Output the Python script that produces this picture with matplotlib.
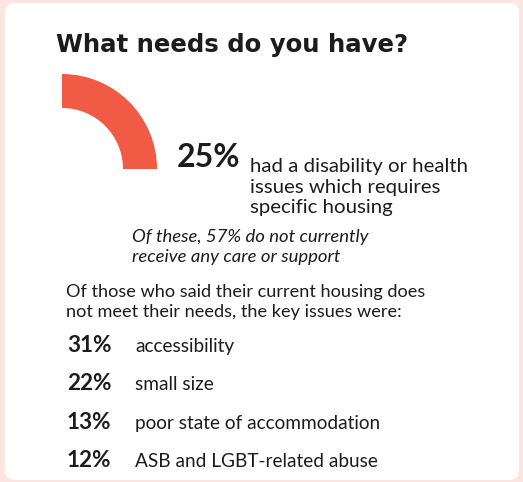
import matplotlib.pyplot as plt
from matplotlib.patches import Wedge, FancyBboxPatch

plt.rcParams['font.family'] = ['Lato', 'DejaVu Sans']

title = 'What needs do you have?'
headline_value = 25
headline_text = ['had a disability or health', 'issues which requires', 'specific housing']
sub_note = ['Of these, 57% do not currently', 'receive any care or support']
intro = ['Of those who said their current housing does', 'not meet their needs, the key issues were:']
issue_values = [31, 22, 13, 12]
issue_labels = ['accessibility', 'small size', 'poor state of accommodation',
                'ASB and LGBT-related abuse']

W, H = 523, 482
PT = 72 / 100  # px -> pt at dpi 100

fig = plt.figure(figsize=(W / 100, H / 100), dpi=100)
fig.patch.set_facecolor('#fde5e2')
ax = fig.add_axes([0, 0, 1, 1])
ax.set_xlim(0, W)
ax.set_ylim(H, 0)
ax.axis('off')

# white card
card = FancyBboxPatch((5, 3), 514, 477, boxstyle='round,pad=0,rounding_size=10',
                      fc='white', ec='none')
ax.add_patch(card)

ink = '#1c1c1c'
ax.text(56, 52, title, fontsize=24.4 * PT, fontweight='bold', color=ink, va='baseline',
        family='DejaVu Sans')

# quarter ring for the headline share
span = 360 * headline_value / 100
ax.add_patch(Wedge((62, 169), 95, -90, -90 + span, width=34, fc='#f15a45', ec='none'))

ax.text(177, 167, f'{headline_value}%', fontsize=32 * PT, fontweight='bold',
        color=ink, va='baseline')
for i, line in enumerate(headline_text):
    ax.text(250, 172 + i * 20.5, line, fontsize=20.4 * PT, color=ink, va='baseline')

for i, line in enumerate(sub_note):
    ax.text(132, 242 + i * 20, line, fontsize=18.5 * PT, style='italic', color=ink,
            va='baseline')

for i, line in enumerate(intro):
    ax.text(66, 297 + i * 20, line, fontsize=18.2 * PT, color=ink, va='baseline')

for i, (v, lab) in enumerate(zip(issue_values, issue_labels)):
    y = 352 + i * 38.3
    ax.text(67, y, f'{v}%', fontsize=22.5 * PT, fontweight='bold', color=ink, va='baseline')
    ax.text(135, y, lab, fontsize=19 * PT, color=ink, va='baseline')

fig.savefig('out.png', dpi=100)
